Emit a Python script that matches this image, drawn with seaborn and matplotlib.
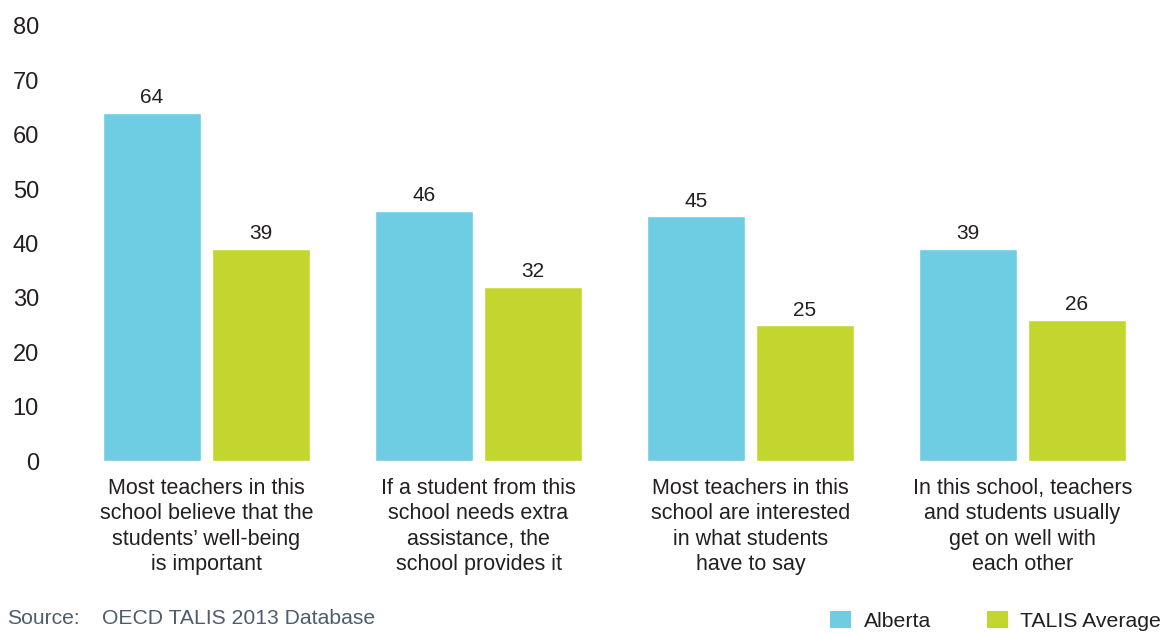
import matplotlib
matplotlib.use("Agg")
import matplotlib.pyplot as plt
from matplotlib.patches import Patch
import seaborn as sns
import pandas as pd

# Survey statements (x categories), one value per series
categories = [
    "Most teachers in this\nschool believe that the\nstudents\u2019 well-being\nis important",
    "If a student from this\nschool needs extra\nassistance, the\nschool provides it",
    "Most teachers in this\nschool are interested\nin what students\nhave to say",
    "In this school, teachers\nand students usually\nget on well with\neach other",
]
series_names = ["Alberta", "TALIS Average"]
alberta = [64, 46, 45, 39]
talis_average = [39, 32, 25, 26]
y_ticks = [0, 10, 20, 30, 40, 50, 60, 70, 80]
source_label = "Source:"
source_text = "OECD TALIS 2013 Database"

colors = ["#6ecde3", "#c2d62f"]
text_color = "#231f20"

df = pd.DataFrame({
    "statement": categories * 2,
    "group": [series_names[0]] * len(categories) + [series_names[1]] * len(categories),
    "value": alberta + talis_average,
})

sns.set_theme(style="white")
plt.rcParams["font.family"] = ["Liberation Sans", "DejaVu Sans"]

W, H = 1160, 633
fig = plt.figure(figsize=(W / 100, H / 100), dpi=100)
ax = fig.add_axes([50 / W, (H - 461) / H, 1100 / W, 435 / H])

sns.barplot(
    data=df, x="statement", y="value", hue="group",
    palette=colors, width=0.8, gap=0.1, saturation=1,
    order=categories, hue_order=series_names, ax=ax, legend=False,
)

for cont in ax.containers:
    ax.bar_label(cont, fmt="%d", padding=4, fontsize=15, color=text_color)

ax.set_ylim(0, 80)
ax.set_yticks(y_ticks)
left = -(206.5 - 50) / 272
ax.set_xlim(left, left + 1100 / 272)
ax.set_xlabel("")
ax.set_ylabel("")
ax.tick_params(axis="y", length=0, pad=8, labelsize=17, labelcolor=text_color)
ax.tick_params(axis="x", length=0, pad=12, labelsize=15.5, labelcolor=text_color)
for lbl in ax.get_xticklabels():
    lbl.set_linespacing(1.28)
    lbl.set_multialignment("center")
sns.despine(ax=ax, left=True, bottom=True)
ax.grid(False)

# Source note
src_color = "#4d5d6b"
fig.text(7 / W, (H - 618) / H, source_label, fontsize=15.2, color=src_color, va="center")
fig.text(102 / W, (H - 618) / H, source_text, fontsize=15.2, color=src_color, va="center")

# Legend along the bottom right
handles = [Patch(facecolor=c, edgecolor="none") for c in colors]
fig.legend(
    handles, series_names, loc="center left",
    bbox_to_anchor=(830 / W, (H - 621) / H), ncol=2, frameon=False,
    fontsize=15.3, handlelength=1.0, handleheight=0.85, handletextpad=0.6,
    columnspacing=2.6, borderpad=0, borderaxespad=0, labelcolor=text_color,
)

fig.savefig("out.png", dpi=100)
